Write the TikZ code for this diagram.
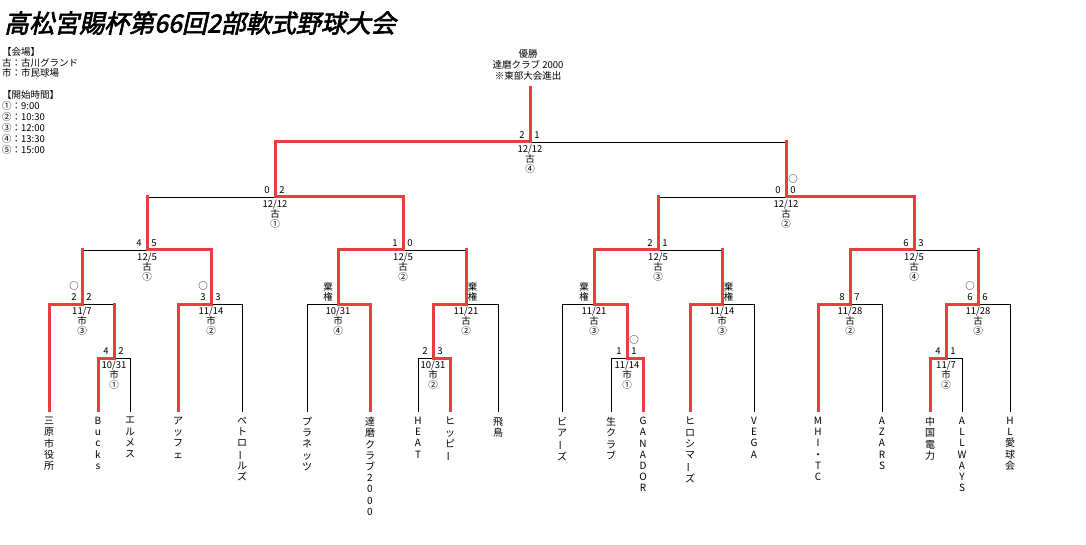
\documentclass[tikz,border=0pt]{standalone}
\usepackage{fontspec}
\usepackage{graphicx}
\setmainfont{Noto Sans CJK JP}
\newfontfamily\titlefont[FakeSlant=0.22,FakeBold=2.5]{Noto Sans CJK JP}
\definecolor{winred}{RGB}{232,62,62}
\pgfdeclarelayer{redlayer}
\pgfsetlayers{main,redlayer}
\newcommand\vl{\rotatebox[origin=c]{90}{ー}}
\tikzset{
  blk/.style={draw=black,line width=0.9pt},
  rd/.style={draw=winred,line width=3pt,line cap=rect},
  info/.style={inner sep=0pt,font=\fontsize{9.5}{10}\selectfont},
  score/.style={inner sep=0pt,font=\fontsize{9.5}{10}\selectfont},
  leaflab/.style={inner sep=0pt,anchor=north,align=center,font=\fontsize{10}{11.2}\selectfont},
  legend/.style={inner sep=0pt,anchor=west,font=\fontsize{9.5}{10}\selectfont},
}
% id cx y xl xr win
\newcommand\Match[6]{%
  \coordinate (#1) at (#2,#3);
  \coordinate (#1-L) at (#4,#3);
  \coordinate (#1-R) at (#5,#3);
  \if L#6
    \draw[blk] (#1) -- (#1-R);
    \begin{pgfonlayer}{redlayer}\draw[rd] (#1-L) -- (#1);\end{pgfonlayer}
  \else
    \draw[blk] (#1-L) -- (#1);
    \begin{pgfonlayer}{redlayer}\draw[rd] (#1) -- (#1-R);\end{pgfonlayer}
  \fi}
\newcommand\Info[4]{%
  \node[info] (#1-date) at ([yshift=-7.5pt]#1) {#2};
  \node[info] (#1-ven) at ([yshift=-17pt]#1) {#3};
  \node[info] (#1-slot) at ([yshift=-27pt]#1) {#4};}
\newcommand\Sc[3]{%
  \node[score] (#1-sl) at ([xshift=-8pt,yshift=7pt]#1) {#2};
  \node[score] (#1-sr) at ([xshift=7pt,yshift=7pt]#1) {#3};}
\newcommand\CircL[1]{\node[score] (#1-cl) at ([xshift=-8pt,yshift=18pt]#1) {○};}
\newcommand\CircR[1]{\node[score] (#1-cr) at ([xshift=7pt,yshift=18pt]#1) {○};}
\newcommand\KikenL[1]{\node[score,align=center] (#1-kl) at ([xshift=-10pt,yshift=12pt]#1) {棄\\権};}
\newcommand\KikenR[1]{\node[score,align=center] (#1-kr) at ([xshift=6.5pt,yshift=12pt]#1) {棄\\権};}
\newcommand\Up[2]{\begin{pgfonlayer}{redlayer}\draw[rd] (#1) -- (#2);\end{pgfonlayer}}
% id x parentcorner red(r/b) label
\newcommand\Leaf[5]{%
  \coordinate (#1) at (#2,412);
  \if r#4
    \begin{pgfonlayer}{redlayer}\draw[rd,line cap=butt] (#1) -- (#3);\end{pgfonlayer}
  \else
    \draw[blk] (#1) -- (#3);
  \fi
  \node[leaflab] (#1-lab) at (#2,417) {#5};}
\begin{document}
\begin{tikzpicture}[x=1pt,y=-1pt]
\useasboundingbox (0,0) rectangle (1086,545);
% title
\node[inner sep=0pt,anchor=west,font=\titlefont\fontsize{25}{27}\selectfont] (title) at (4,23) {高松宮賜杯第66回2部軟式野球大会};
% legend
\node[legend] (lg1) at (2,52) {【会場】};
\node[legend] (lg2) at (2,62.5) {古：古川グランド};
\node[legend] (lg3) at (2,73) {市：市民球場};
\node[legend] (lg4) at (2,95) {【開始時間】};
\node[legend] (lg5) at (2,106) {①：9:00};
\node[legend] (lg6) at (2,117) {②：10:30};
\node[legend] (lg7) at (2,128) {③：12:00};
\node[legend] (lg8) at (2,139) {④：13:30};
\node[legend] (lg9) at (2,150) {⑤：15:00};
% champion
\node[info] (ch1) at (528,54) {優勝};
\node[info] (ch2) at (528,65) {達磨クラブ 2000};
\node[info] (ch3) at (528,76) {※東部大会進出};
\coordinate (top) at (530,88);
% matches
\Match{F}{530}{142}{275}{786}{L}
\Match{SFa}{275}{197}{147}{403}{R}
\Match{SFb}{786}{197}{658}{914}{R}
\Match{QFa}{147}{250}{82}{211}{R}
\Match{QFb}{403}{250}{338}{466}{L}
\Match{QFc}{658}{250}{594}{722}{L}
\Match{QFd}{914}{250}{850}{978}{L}
\Match{RBa}{82}{304}{49}{114}{L}
\Match{RBb}{211}{304}{178}{242}{L}
\Match{RBc}{338}{304}{307}{370}{R}
\Match{RBd}{466}{304}{433}{498}{L}
\Match{RBe}{594}{304}{562}{627}{R}
\Match{RBf}{722}{304}{690}{754}{L}
\Match{RBg}{850}{304}{818}{882}{L}
\Match{RBh}{978}{304}{946}{1010}{L}
\Match{RAa}{114}{358}{98}{130}{L}
\Match{RAb}{433}{358}{418}{450}{R}
\Match{RAc}{627}{358}{611}{643}{R}
\Match{RAd}{946}{358}{930}{962}{L}
% upward connectors
\Up{F}{top}
\Up{SFa}{F-L} \Up{SFb}{F-R}
\Up{QFa}{SFa-L} \Up{QFb}{SFa-R} \Up{QFc}{SFb-L} \Up{QFd}{SFb-R}
\Up{RBa}{QFa-L} \Up{RBb}{QFa-R} \Up{RBc}{QFb-L} \Up{RBd}{QFb-R}
\Up{RBe}{QFc-L} \Up{RBf}{QFc-R} \Up{RBg}{QFd-L} \Up{RBh}{QFd-R}
\Up{RAa}{RBa-R} \Up{RAb}{RBd-L} \Up{RAc}{RBe-R} \Up{RAd}{RBh-L}
% leaves
\Leaf{t1}{49}{RBa-L}{r}{三\\原\\市\\役\\所}
\Leaf{t2}{98}{RAa-L}{r}{B\\u\\c\\k\\s}
\Leaf{t3}{130}{RAa-R}{b}{エ\\ル\\メ\\ス}
\Leaf{t4}{178}{RBb-L}{r}{ア\\ッ\\フ\\ェ}
\Leaf{t5}{242}{RBb-R}{b}{ペ\\ト\\ロ\\\vl\\ル\\ズ}
\Leaf{t6}{307}{RBc-L}{b}{プ\\ラ\\ネ\\ッ\\ツ}
\Leaf{t7}{370}{RBc-R}{r}{達\\磨\\ク\\ラ\\ブ\\2\\0\\0\\0}
\Leaf{t8}{418}{RAb-L}{b}{H\\E\\A\\T}
\Leaf{t9}{450}{RAb-R}{r}{ヒ\\ッ\\ピ\\\vl}
\Leaf{t10}{498}{RBd-R}{b}{飛\\鳥}
\Leaf{t11}{562}{RBe-L}{b}{ビ\\ア\\\vl\\ズ}
\Leaf{t12}{611}{RAc-L}{b}{生\\ク\\ラ\\ブ}
\Leaf{t13}{643}{RAc-R}{r}{G\\A\\N\\A\\D\\O\\R}
\Leaf{t14}{690}{RBf-L}{r}{ヒ\\ロ\\シ\\マ\\\vl\\ズ}
\Leaf{t15}{754}{RBf-R}{b}{V\\E\\G\\A}
\Leaf{t16}{818}{RBg-L}{r}{M\\H\\I\\・\\T\\C}
\Leaf{t17}{882}{RBg-R}{b}{A\\Z\\A\\R\\S}
\Leaf{t18}{930}{RAd-L}{r}{中\\国\\電\\力}
\Leaf{t19}{962}{RAd-R}{b}{A\\L\\L\\W\\A\\Y\\S}
\Leaf{t20}{1010}{RBh-R}{b}{H\\L\\愛\\球\\会}
% match info
\Info{F}{12/12}{古}{④} \Sc{F}{2}{1}
\Info{SFa}{12/12}{古}{①} \Sc{SFa}{0}{2}
\Info{SFb}{12/12}{古}{②} \Sc{SFb}{0}{0} \CircR{SFb}
\Info{QFa}{12/5}{古}{①} \Sc{QFa}{4}{5}
\Info{QFb}{12/5}{古}{②} \Sc{QFb}{1}{0}
\Info{QFc}{12/5}{古}{③} \Sc{QFc}{2}{1}
\Info{QFd}{12/5}{古}{④} \Sc{QFd}{6}{3}
\Info{RBa}{11/7}{市}{③} \Sc{RBa}{2}{2} \CircL{RBa}
\Info{RBb}{11/14}{市}{②} \Sc{RBb}{3}{3} \CircL{RBb}
\Info{RBc}{10/31}{市}{④} \KikenL{RBc}
\Info{RBd}{11/21}{古}{②} \KikenR{RBd}
\Info{RBe}{11/21}{古}{③} \KikenL{RBe}
\Info{RBf}{11/14}{市}{③} \KikenR{RBf}
\Info{RBg}{11/28}{古}{②} \Sc{RBg}{8}{7}
\Info{RBh}{11/28}{古}{③} \Sc{RBh}{6}{6} \CircL{RBh}
\Info{RAa}{10/31}{市}{①} \Sc{RAa}{4}{2}
\Info{RAb}{10/31}{市}{②} \Sc{RAb}{2}{3}
\Info{RAc}{11/14}{市}{①} \Sc{RAc}{1}{1} \CircR{RAc}
\Info{RAd}{11/7}{市}{②} \Sc{RAd}{4}{1}
\end{tikzpicture}
\end{document}
